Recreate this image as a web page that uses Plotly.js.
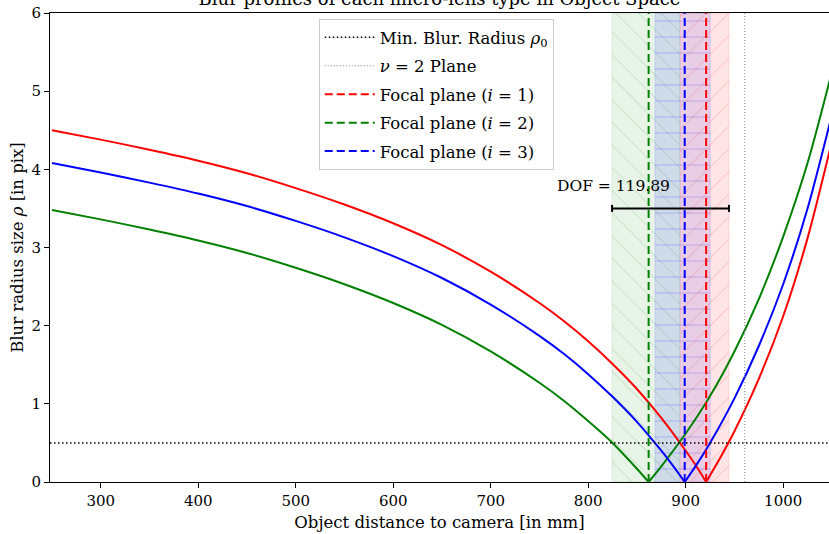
<!DOCTYPE html>
<html><head><meta charset="utf-8">
<script src="https://cdn.plot.ly/plotly-3.0.1.min.js"></script>
<style>html,body{margin:0;padding:0;background:#fff}#chart{width:829px;height:534px}</style>
</head><body><div id="chart"></div>
<script>
// ---- data ----
const xRange = [248, 1047];
const yRange = [0, 6];
const xTicks = [300, 400, 500, 600, 700, 800, 900, 1000];
const yTicks = [0, 1, 2, 3, 4, 5, 6];

const distRed  = [250,300,350,400,450,500,550,600,650,700,750,775,800,825,850,875,900,910,921,935,950,975,1000,1025,1050];
const blurRed  = [4.50,4.38,4.25,4.11,3.95,3.76,3.55,3.31,3.03,2.69,2.29,2.06,1.80,1.51,1.19,0.82,0.40,0.22,0,0.30,0.65,1.32,2.12,3.12,4.36];
const distGreen = [250,300,350,400,450,500,550,600,650,700,750,775,800,825,850,862,875,900,925,950,975,1000,1025,1050];
const blurGreen = [3.48,3.36,3.23,3.09,2.93,2.74,2.53,2.29,2.01,1.67,1.27,1.04,0.78,0.50,0.17,0,0.20,0.62,1.10,1.67,2.34,3.14,4.08,5.25];
const distBlue = [250,300,350,400,450,500,550,600,650,700,750,775,800,825,850,875,888,899,910,925,950,975,1000,1025,1050];
const blurBlue = [4.08,3.96,3.83,3.69,3.53,3.34,3.13,2.89,2.61,2.27,1.87,1.64,1.38,1.09,0.77,0.40,0.19,0,0.20,0.50,1.07,1.74,2.53,3.50,4.70];

const focalX = [921, 862, 899];               // i = 1, 2, 3
const focalLabels = ['Focal plane (<i>i</i> = 1)', 'Focal plane (<i>i</i> = 2)', 'Focal plane (<i>i</i> = 3)'];
const seriesColors = ['#ff0000', '#008000', '#0000ff'];
const bandLo = [894.4, 824.5, 868.6];
const bandHi = [944.4, 893.8, 925.2];
const bandBg = ['rgba(255,0,0,0.10)', 'rgba(0,128,0,0.09)', 'rgba(0,0,255,0.10)'];
const bandFg = ['rgba(255,0,0,0.20)', 'rgba(0,128,0,0.20)', 'rgba(0,0,255,0.20)'];
const bandHatch = ['/', '\\', '-'];

const rho0 = 0.5;
const nu2Plane = 960.6;
const dofRange = [824.5, 944.4];
const dofY = 3.5;
const dofLabel = 'DOF = 119.89';
const dofLabelPos = [826, 3.79];

const FONT = 'DejaVu Serif, Liberation Serif, serif';
const curves = [[distRed, blurRed], [distGreen, blurGreen], [distBlue, blurBlue]];

const traces = [];
// shaded DOF bands (green, blue, red order for layering)
[1, 2, 0].forEach(k => {
  traces.push({
    type: 'scatter', mode: 'lines',
    x: [bandLo[k], bandHi[k], bandHi[k], bandLo[k], bandLo[k]],
    y: [yRange[0], yRange[0], yRange[1], yRange[1], yRange[0]],
    fill: 'toself', fillcolor: bandBg[k],
    fillpattern: {shape: bandHatch[k], bgcolor: bandBg[k], fgcolor: bandFg[k], fgopacity: 1, size: 16, solidity: 0.06},
    line: {width: 0.6, color: bandFg[k]}, showlegend: false, hoverinfo: 'skip', legendgroup: 'z'
  });
});
// blur curves split into two smooth branches at each focal plane
curves.forEach((c, k) => {
  const xs = c[0], ys = c[1], f = focalX[k];
  const li = xs.map((v, i) => i).filter(i => xs[i] <= f);
  const ri = xs.map((v, i) => i).filter(i => xs[i] >= f);
  [li, ri].forEach(idx => traces.push({
    type: 'scatter', mode: 'lines',
    x: idx.map(i => xs[i]), y: idx.map(i => ys[i]),
    line: {color: seriesColors[k], width: 2, shape: 'spline', smoothing: 0.8},
    showlegend: false, hoverinfo: 'skip', legendgroup: 'z'
  }));
});
// min blur radius
traces.push({type: 'scatter', mode: 'lines', x: xRange, y: [rho0, rho0],
  line: {color: '#000', width: 1.5, dash: '1.5px,2.5px'},
  name: 'Min. Blur. Radius <i>ρ</i><sub>0</sub>', legendgroup: 'a'});
traces.push({type: 'scatter', mode: 'lines', x: [nu2Plane, nu2Plane], y: yRange,
  line: {color: '#888', width: 1, dash: '1px,2px'},
  name: '<i>ν</i> = 2 Plane', legendgroup: 'b'});
focalX.forEach((f, k) => traces.push({
  type: 'scatter', mode: 'lines', x: [f, f], y: yRange,
  line: {color: seriesColors[k], width: 2, dash: '8px,4px'},
  name: focalLabels[k], legendgroup: 'f' + k
}));
// DOF bar
traces.push({type: 'scatter', mode: 'lines+markers', x: dofRange, y: [dofY, dofY],
  line: {color: '#000', width: 2},
  marker: {symbol: 'line-ns-open', size: 5, line: {color: '#000', width: 2}},
  showlegend: false, hoverinfo: 'skip', legendgroup: 'y'});

const layout = {
  width: 829, height: 534,
  margin: {l: 50, r: 0, t: 13, b: 52},
  paper_bgcolor: '#fff', plot_bgcolor: '#fff',
  font: {family: FONT, size: 16, color: '#000'},
  title: {text: 'Blur profiles of each micro-lens type in Object Space',
    x: 0.5, xref: 'paper', y: 0.99, yref: 'container', yanchor: 'bottom',
    font: {family: FONT, size: 18, color: '#000'}},
  xaxis: {range: xRange, tickvals: xTicks, ticktext: xTicks.map(String),
    showgrid: false, zeroline: false, showline: true, mirror: true, linecolor: '#000', linewidth: 1,
    ticks: 'outside', ticklen: 5, tickcolor: '#000', tickfont: {family: FONT, size: 15},
    title: {text: 'Object distance to camera [in mm]', font: {family: FONT, size: 16.5}, standoff: 7}},
  yaxis: {range: yRange, tickvals: yTicks, ticktext: yTicks.map(String),
    showgrid: false, zeroline: false, showline: true, mirror: true, linecolor: '#000', linewidth: 1,
    ticks: 'outside', ticklen: 5, tickcolor: '#000', tickfont: {family: FONT, size: 15},
    title: {text: 'Blur radius size <i>ρ</i> [in pix]', font: {family: FONT, size: 16.5}, standoff: 3}},
  legend: {x: 0.345, y: 0.987, xanchor: 'left', yanchor: 'top',
    bgcolor: 'rgba(255,255,255,0.85)', bordercolor: '#cccccc', borderwidth: 1,
    font: {family: FONT, size: 16.5}, tracegroupgap: 4, traceorder: 'grouped', itemwidth: 50},
  annotations: [{x: dofLabelPos[0], y: dofLabelPos[1], xref: 'x', yref: 'y', text: dofLabel,
    showarrow: false, font: {family: FONT, size: 15.5}, xanchor: 'center', yanchor: 'middle'}],
  showlegend: true
};
Plotly.newPlot('chart', traces, layout, {staticPlot: true});
</script></body></html>
